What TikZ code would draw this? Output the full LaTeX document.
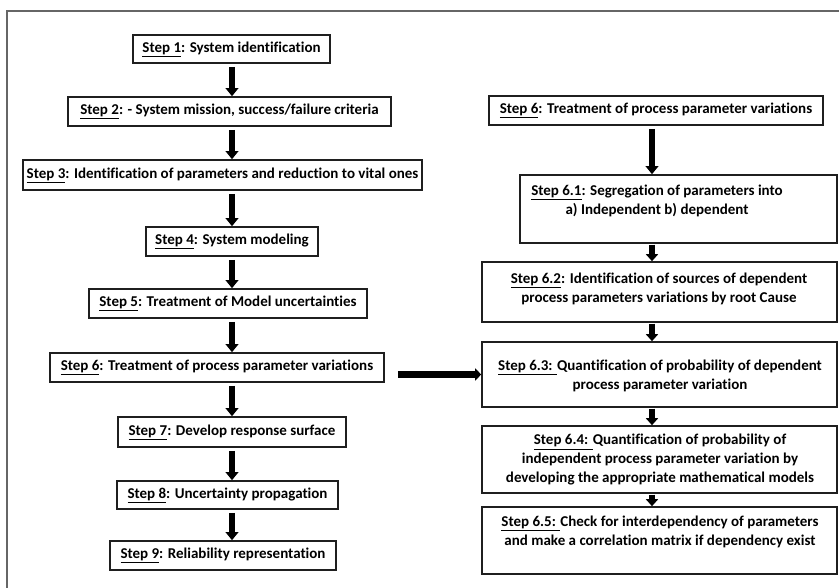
\documentclass[tikz,border=0pt]{standalone}
\usepackage{fontspec}
\setmainfont[Ligatures=CommonOff]{Carlito}
\usetikzlibrary{arrows.meta}
\tikzset{
  box/.style={draw=black!88, line width=1.6pt, fill=white, inner sep=0pt, font=\bfseries\fontsize{15}{19}\selectfont, align=center},
  txt/.style={inner sep=0pt, font=\bfseries\fontsize{15}{19}\selectfont, align=center},
  varr/.style={line width=5.5pt, black, -{Triangle[width=12.5pt,length=8pt]}, shorten <=3pt},
  sarr/.style={line width=5.5pt, black, -{Triangle[width=12pt,length=7pt]}, shorten <=0.8pt},
  harr/.style={line width=6.5pt, black, -{Triangle[width=12pt,length=6pt]}, shorten <=13pt},
  frame/.style={draw=black!60, line width=2pt}
}
\newcommand{\stp}[1]{\underline{#1}}
\begin{document}
\begin{tikzpicture}[x=1pt,y=-1pt]
\useasboundingbox (0,0) rectangle (839,588);
\draw[frame] (839,11.5) -- (7,11.5) -- (7,588);
% left column
\node[box, minimum width=197pt, minimum height=28pt] (s1) at (231.5,49) {\stp{Step 1}: System identification};
\node[box, minimum width=323pt, minimum height=29pt] (s2) at (229.5,111.5) {\stp{Step 2}: - System mission, success/failure criteria};
\node[box, minimum width=399pt, minimum height=30pt] (s3) at (222.5,175) {\stp{Step 3}: Identification of parameters and reduction to vital ones};
\node[box, minimum width=172pt, minimum height=29pt] (s4) at (232,241.5) {\stp{Step 4}: System modeling};
\node[box, minimum width=278pt, minimum height=29pt] (s5) at (228,303.5) {\stp{Step 5}: Treatment of Model uncertainties};
\node[box, minimum width=334pt, minimum height=29pt] (s6) at (217,367.5) {\stp{Step 6}: Treatment of process parameter variations};
\node[box, minimum width=228pt, minimum height=30pt] (s7) at (232,432) {\stp{Step 7}: Develop response surface};
\node[box, minimum width=221pt, minimum height=28pt] (s8) at (227.5,495) {\stp{Step 8}: Uncertainty propagation};
\node[box, minimum width=226pt, minimum height=29pt] (s9) at (223,555.5) {\stp{Step 9}: Reliability representation};
\coordinate (ax) at (232,0);
\foreach \a/\b in {s1/s2,s2/s3,s3/s4,s4/s5,s5/s6,s6/s7,s7/s8,s8/s9}
  \draw[varr] (\a.south -| ax) -- (\b.north -| ax);
% right column
\node[box, minimum width=334pt, minimum height=29pt] (r6) at (656,110.5) {\stp{Step 6}: Treatment of process parameter variations};
\node[box, minimum width=317pt, minimum height=68pt] (r61) at (678.5,209) {};
\node[box, minimum width=355pt, minimum height=60pt] (r62) at (659.5,292) {};
\node[box, minimum width=355pt, minimum height=65pt] (r63) at (659.5,374.5) {};
\node[box, minimum width=355pt, minimum height=67pt] (r64) at (659.5,459.5) {};
\node[box, minimum width=355pt, minimum height=67pt] (r65) at (659.5,540.5) {};
\node[txt] (t61) at (657,200.5) {\stp{Step 6.1}: Segregation of parameters into\\a) Independent b) dependent};
\node[txt] (t62) at (659,288.5) {\stp{Step 6.2}: Identification of sources of dependent\\process parameters variations by root Cause};
\node[txt] (t63) at (660,376) {\stp{Step 6.3: }Quantification of probability of dependent\\process parameter variation};
\node[txt] (t64) at (660,460) {\stp{Step 6.4: }Quantification of probability of\\independent process parameter variation by\\developing the appropriate mathematical models};
\node[txt] (t65) at (660,531.5) {\stp{Step 6.5: }Check for interdependency of parameters\\and make a correlation matrix if dependency exist};
\coordinate (bx) at (652,0);
\draw[varr] (r6.south -| bx) -- (r61.north -| bx);
\foreach \a/\b in {r61/r62,r62/r63,r63/r64,r64/r65}
  \draw[sarr] (\a.south -| bx) -- (\b.north -| bx);
% cross arrow
\draw[harr] (s6.east |- r63.west) -- (r63.west);
\end{tikzpicture}
\end{document}
